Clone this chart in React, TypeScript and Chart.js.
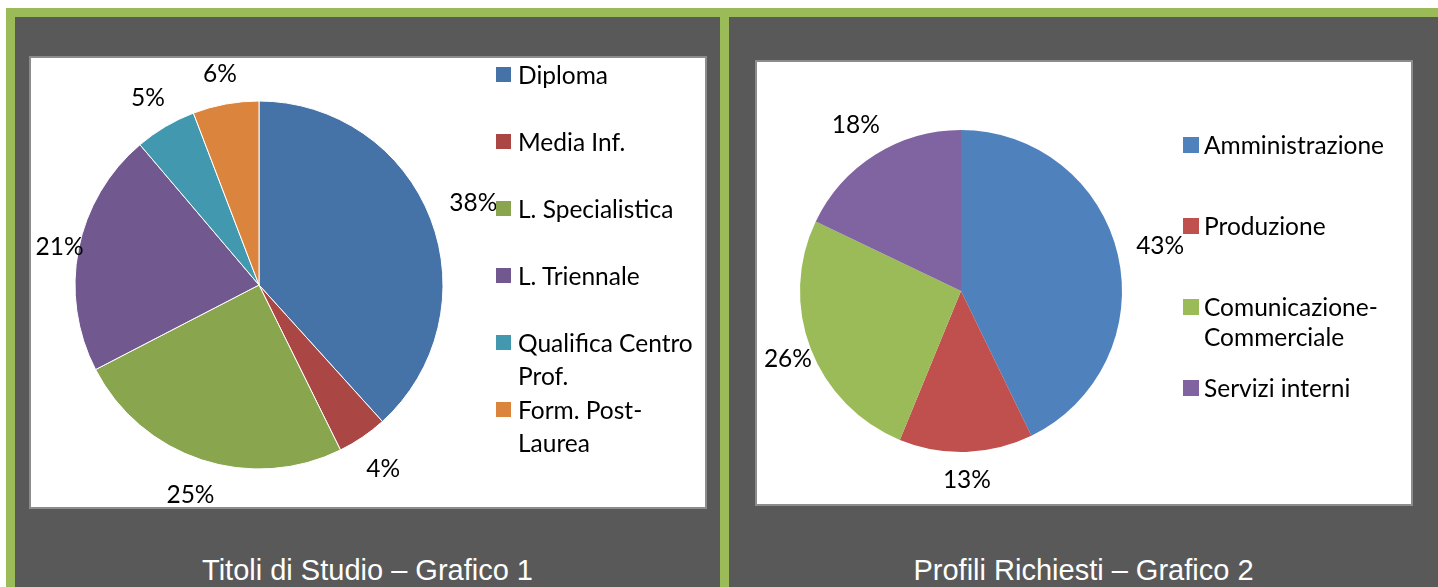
import React, { useEffect, useRef } from "react";
import { Chart, registerables } from "chart.js";

Chart.register(...registerables);

// ---------- DATA ----------
const studyLabels = ["Diploma", "Media Inf.", "L. Specialistica", "L. Triennale", "Qualifica Centro Prof.", "Form. Post-Laurea"];
const studyValues = [38.3, 4.4, 24.7, 21.4, 5.4, 5.8];
const studyColors = ["#4572a7", "#aa4643", "#89a54e", "#71588f", "#4198af", "#db843d"];
const studyTitle = "Titoli di Studio \u2013 Grafico 1";

const profileLabels = ["Amministrazione", "Produzione", "Comunicazione-Commerciale", "Servizi interni"];
const profileValues = [42.8, 13.4, 25.9, 17.9];
const profileColors = ["#4f81bd", "#c0504d", "#9bbb59", "#8064a2"];
const profileTitle = "Profili Richiesti \u2013 Grafico 2";

const LABEL_FONT = "Lato, 'Noto Sans', sans-serif";
const TEXT_SIZE = 24.5;

const outsideLabels = (gap: number, fontSize: number) => ({
  id: "outsideLabels",
  afterDatasetsDraw(chart: any) {
    const ctx = chart.ctx;
    const meta = chart.getDatasetMeta(0);
    const data = chart.data.datasets[0].data as number[];
    const total = data.reduce((a, b) => a + b, 0);
    ctx.save();
    ctx.font = `${fontSize}px ${LABEL_FONT}`;
    ctx.fillStyle = "#000000";
    ctx.textAlign = "center";
    ctx.textBaseline = "middle";
    meta.data.forEach((arc: any, i: number) => {
      const { x, y, startAngle, endAngle, outerRadius } = arc.getProps(
        ["x", "y", "startAngle", "endAngle", "outerRadius"],
        true
      );
      const mid = (startAngle + endAngle) / 2;
      const txt = Math.round((data[i] / total) * 100) + "%";
      const w = ctx.measureText(txt).width;
      const h = fontSize * 0.72;
      const c = Math.cos(mid);
      const s = Math.sin(mid);
      const ext = Math.abs(c) * (w / 2) + Math.abs(s) * (h / 2);
      const pull = c < 0 ? 1.4 * gap * Math.pow(c, 4) : 0;
      const d = outerRadius + gap - pull + ext;
      ctx.fillText(txt, x + c * d, y + s * d + 1);
    });
    ctx.restore();
  },
});

type PieProps = {
  labels: string[];
  values: number[];
  colors: string[];
  radius: number;
  padding: { left: number; right: number; top: number; bottom: number };
  width: number;
  height: number;
  borderWidth: number;
  gap: number;
};

function PieCanvas(p: PieProps) {
  const ref = useRef<HTMLCanvasElement | null>(null);
  useEffect(() => {
    if (!ref.current) return;
    const chart = new Chart(ref.current, {
      type: "pie",
      data: {
        labels: p.labels,
        datasets: [
          {
            data: p.values,
            backgroundColor: p.colors,
            borderColor: "#ffffff",
            borderWidth: p.borderWidth,
          },
        ],
      },
      options: {
        animation: false,
        responsive: false,
        radius: p.radius,
        layout: { padding: p.padding },
        plugins: {
          legend: { display: false },
          tooltip: { enabled: false },
        },
      } as any,
      plugins: [outsideLabels(p.gap, TEXT_SIZE)],
    });
    return () => chart.destroy();
  }, []);
  return (
    <canvas
      ref={ref}
      width={p.width}
      height={p.height}
      style={{ position: "absolute", left: 0, top: 0, width: p.width, height: p.height }}
    />
  );
}

type LegendProps = {
  labels: string[];
  colors: string[];
  left: number;
  top: number;
  step: number;
  lineHeight: number;
  box: number;
  textGap: number;
  textWidth: number;
};

function Legend(p: LegendProps) {
  return (
    <div style={{ position: "absolute", left: p.left, top: p.top }}>
      {p.labels.map((l, i) => (
        <div
          key={l}
          style={{ position: "absolute", left: 0, top: i * p.step, display: "flex", alignItems: "flex-start" }}
        >
          <div
            style={{
              width: p.box,
              height: p.box,
              background: p.colors[i],
              marginTop: (p.lineHeight - p.box) / 2,
              flex: "none",
            }}
          />
          <div
            style={{
              marginLeft: p.textGap,
              width: p.textWidth,
              fontFamily: LABEL_FONT,
              fontSize: TEXT_SIZE,
              lineHeight: p.lineHeight + "px",
              color: "#000",
              whiteSpace: "normal",
            }}
          >
            {l}
          </div>
        </div>
      ))}
    </div>
  );
}

export default function App() {
  const green = "#9bbb59";
  const dark = "#595959";
  const boxBorder = "2px solid #8c8c8c";
  const titleStyle: React.CSSProperties = {
    position: "absolute",
    top: 553,
    height: 34,
    lineHeight: "34px",
    textAlign: "center",
    color: "#ffffff",
    fontFamily: "'Liberation Sans', Arial, sans-serif",
    fontSize: 29,
    whiteSpace: "nowrap",
  };
  return (
    <div style={{ position: "fixed", left: 0, top: 0, width: 1438, height: 587, background: "#ffffff", overflow: "hidden" }}>
      <div style={{ position: "absolute", left: 6, top: 8, width: 1432, height: 579, background: green }} />
      <div style={{ position: "absolute", left: 15, top: 17, width: 705, height: 570, background: dark }} />
      <div style={{ position: "absolute", left: 729, top: 17, width: 709, height: 570, background: dark }} />

      {/* Chart 1 */}
      <div
        style={{
          position: "absolute",
          left: 29,
          top: 56,
          width: 674,
          height: 449,
          border: boxBorder,
          background: "#ffffff",
        }}
      >
        <PieCanvas
          labels={studyLabels}
          values={studyValues}
          colors={studyColors}
          radius={184}
          width={674}
          height={449}
          padding={{ left: 0, right: 218, top: 5, bottom: 0 }}
          borderWidth={1}
          gap={20}
        />
      </div>
      <Legend
        labels={studyLabels}
        colors={studyColors}
        left={496}
        top={57.5}
        step={67}
        lineHeight={33}
        box={15}
        textGap={7}
        textWidth={185}
      />
      <div style={{ ...titleStyle, left: 15, width: 705 }}>{studyTitle}</div>

      {/* Chart 2 */}
      <div
        style={{
          position: "absolute",
          left: 755,
          top: 60,
          width: 654,
          height: 442,
          border: boxBorder,
          background: "#ffffff",
        }}
      >
        <PieCanvas
          labels={profileLabels}
          values={profileValues}
          colors={profileColors}
          radius={161}
          width={654}
          height={442}
          padding={{ left: 0, right: 246, top: 16, bottom: 0 }}
          borderWidth={0}
          gap={18}
        />
      </div>
      <Legend
        labels={profileLabels}
        colors={profileColors}
        left={1183}
        top={130}
        step={81}
        lineHeight={30}
        box={16}
        textGap={5}
        textWidth={215}
      />
      <div style={{ ...titleStyle, left: 729, width: 709 }}>{profileTitle}</div>
    </div>
  );
}
